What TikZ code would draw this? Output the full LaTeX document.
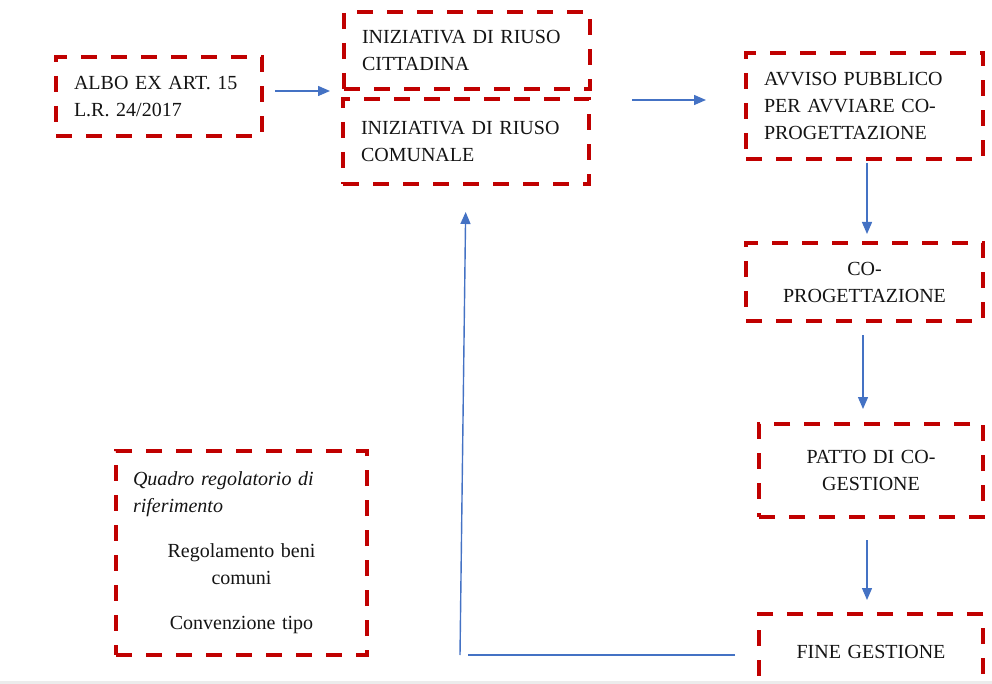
\documentclass[tikz,border=0pt]{standalone}
\usepackage{fontspec}
\setmainfont{Liberation Serif}
\usetikzlibrary{arrows.meta}
\definecolor{boxred}{HTML}{C00000}
\definecolor{arrblue}{HTML}{4472C4}
\definecolor{txt}{HTML}{141414}
\tikzset{
  box/.style={draw=boxred, line width=4pt, dash pattern=on 16pt off 14pt,
    inner xsep=18pt, inner ysep=0pt, outer sep=0pt, text=txt,
    font=\fontsize{20}{27}\selectfont},
  arr/.style={draw=arrblue, line width=1.4pt,
    -{Triangle[length=12pt,width=10pt]}},
  plainline/.style={draw=arrblue, line width=1.4pt}
}
\begin{document}
\begin{tikzpicture}[x=1pt,y=-1pt]
\useasboundingbox (0,0) rectangle (992,684);
\clip (0,0) rectangle (992,684);
\fill[gray!15] (0,681) rectangle (992,684);

\node[box, text width=170pt, minimum height=79pt, align=left] (albo) at (159,96.5)
  {ALBO EX ART. 15\\L.R. 24/2017};
\node[box, text width=210pt, minimum height=77pt, align=left] (cittadina) at (467,50.5)
  {INIZIATIVA DI RIUSO\\CITTADINA};
\node[box, text width=210pt, minimum height=85pt, align=left] (comunale) at (466,141.5)
  {INIZIATIVA DI RIUSO\\COMUNALE};
\node[box, text width=201pt, minimum height=106pt, align=left] (avviso) at (864.5,106)
  {AVVISO PUBBLICO\\PER AVVIARE CO-\\PROGETTAZIONE};
\node[box, text width=201pt, minimum height=78pt, align=center] (coprog) at (864.5,282)
  {CO-\\PROGETTAZIONE};
\node[box, text width=188pt, minimum height=93pt, align=center] (patto) at (871,470.5)
  {PATTO DI CO-\\GESTIONE};
\node[box, text width=188pt, minimum height=76pt, align=center] (fine) at (871,652)
  {FINE GESTIONE};
\node[box, text width=217pt, minimum height=204pt, inner xsep=17pt] (quadro) at (241.5,553)
  {{\raggedright\itshape Quadro regolatorio di\\riferimento\par}\vspace{18pt}%
   {\centering Regolamento beni\\comuni\par}\vspace{18pt}%
   {\centering Convenzione tipo\par}};

\draw[arr] ([shift={(13,-5.5)}]albo.east) -- ([shift={(-14,2)}]cittadina.south west);
\draw[arr] ([shift={(42,11)}]cittadina.south east) -- ([shift={(-40,-6)}]avviso.west);
\draw[arr] ([shift={(2.5,4)}]avviso.south) -- ([shift={(2.5,-9)}]coprog.north);
\draw[arr] ([shift={(-1.5,14)}]coprog.south) -- ([shift={(-8,-15)}]patto.north);
\draw[arr] ([shift={(-4,23)}]patto.south) -- ([shift={(-4,-14)}]fine.north);
\coordinate (turn) at (460,655);
\draw[plainline] ([xshift=-24pt]fine.west |- turn) -- ([xshift=8pt]turn);
\draw[arr, shorten >=28pt] (turn) -- (comunale.south);
\end{tikzpicture}
\end{document}
